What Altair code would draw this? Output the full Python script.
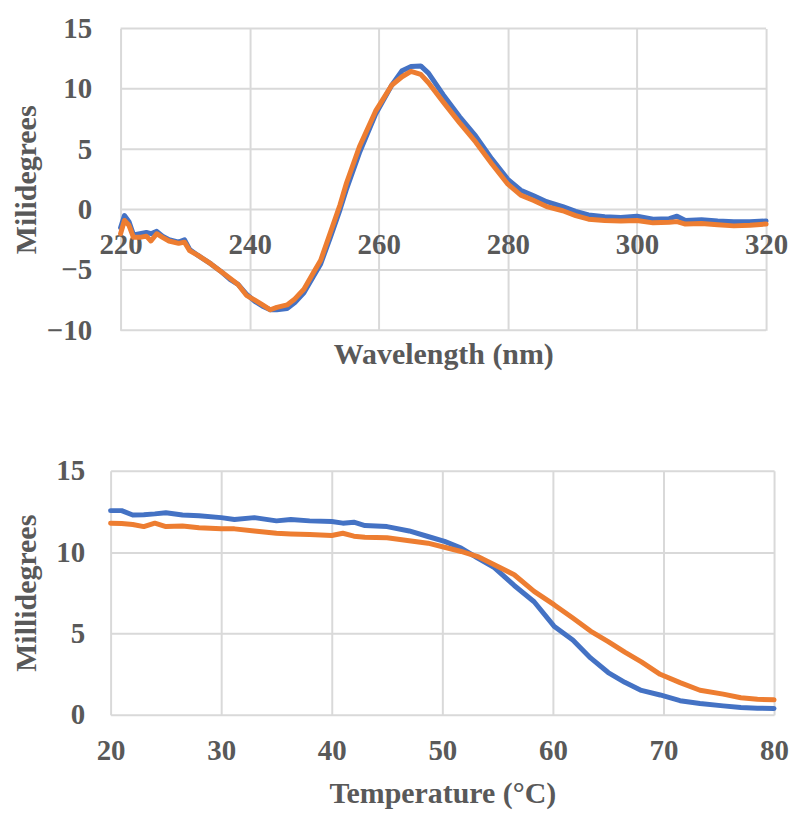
import altair as alt
import pandas as pd

# ---------------- data ----------------
wavelength = [220, 220.6, 221.3, 222, 223, 224, 224.7, 225.6, 226.5, 227.5, 229, 229.9,
              230.7, 232, 234, 235.5, 237, 238.2, 239.5, 240.8, 242, 243.2, 244.2, 245.8,
              247, 248.4, 249.8, 251, 252.5, 254, 255, 257, 259.5, 262, 263.6, 265, 266.5,
              267.7, 270, 272.5, 275, 277.5, 280, 282, 284, 286, 288.5, 290.5, 292.5, 295,
              297.5, 300, 302.5, 305, 306.2, 307.5, 310, 312.5, 315, 317.5, 320]
cd_blue = [-1.5, -0.5, -1.0, -2.1, -2.0, -1.9, -2.0, -1.8, -2.2, -2.5, -2.7, -2.5,
           -3.3, -3.8, -4.5, -5.1, -5.8, -6.2, -7.0, -7.6, -8.0, -8.3, -8.3, -8.2,
           -7.7, -6.9, -5.6, -4.5, -2.3, 0.0, 1.7, 4.7, 7.9, 10.3, 11.5, 11.85, 11.9,
           11.3, 9.5, 7.7, 6.1, 4.2, 2.5, 1.6, 1.15, 0.65, 0.25, -0.15, -0.45, -0.6,
           -0.65, -0.55, -0.8, -0.75, -0.55, -0.9, -0.85, -0.95, -1.0, -1.0, -0.95]
cd_orange = [-2.0, -0.9, -1.3, -2.3, -2.3, -2.2, -2.6, -2.0, -2.3, -2.6, -2.8, -2.7,
             -3.4, -3.8, -4.5, -5.1, -5.7, -6.2, -7.1, -7.5, -7.9, -8.3, -8.1, -7.9,
             -7.4, -6.6, -5.3, -4.2, -1.9, 0.4, 2.2, 5.2, 8.15, 10.3, 11.0, 11.45, 11.2,
             10.5, 8.9, 7.2, 5.6, 3.8, 2.1, 1.2, 0.75, 0.25, -0.1, -0.5, -0.8, -0.9,
             -0.95, -0.9, -1.1, -1.05, -1.0, -1.2, -1.15, -1.25, -1.35, -1.3, -1.2]

temperature = [20, 21, 22, 23, 24, 25, 26.5, 28, 30, 31.2, 33, 35, 36.3, 38, 40, 41, 42,
               43, 45, 47, 48.7, 50.2, 51.7, 53.2, 54.7, 56.5, 58.3, 60.1, 61.8, 63.4, 65,
               66.5, 68, 69.7, 71.5, 73.3, 75.4, 77, 78.5, 80]
melt_blue = [12.55, 12.55, 12.28, 12.3, 12.35, 12.42, 12.28, 12.24, 12.12, 12.0, 12.12,
             11.92, 12.0, 11.92, 11.88, 11.78, 11.84, 11.63, 11.57, 11.3, 10.96, 10.66,
             10.25, 9.63, 9.05, 7.95, 6.95, 5.45, 4.6, 3.5, 2.6, 2.0, 1.5, 1.22, 0.87,
             0.7, 0.55, 0.45, 0.41, 0.39]
melt_orange = [11.78, 11.76, 11.7, 11.57, 11.78, 11.57, 11.6, 11.5, 11.43, 11.43, 11.3,
               11.16, 11.12, 11.08, 11.02, 11.16, 10.98, 10.92, 10.88, 10.7, 10.55, 10.3,
               10.04, 9.73, 9.22, 8.61, 7.59, 6.77, 5.95, 5.15, 4.5, 3.85, 3.25, 2.49,
               1.98, 1.51, 1.27, 1.05, 0.96, 0.92]

series = ["Series 1", "Series 2"]
series_colors = ["#4472C4", "#ED7D31"]
wl_ticks = [220, 240, 260, 280, 300, 320]
cd_ticks = [-10, -5, 0, 5, 10, 15]
temp_ticks = [20, 30, 40, 50, 60, 70, 80]
melt_ticks = [0, 5, 10, 15]

# ---------------- tables ----------------
top_df = pd.DataFrame({
    "wl": wavelength + wavelength,
    "cd": cd_blue + cd_orange,
    "s": [series[0]] * len(wavelength) + [series[1]] * len(wavelength),
})
grid_df = pd.DataFrame({"cd": cd_ticks})
bot_df = pd.DataFrame({
    "t": temperature + temperature,
    "md": melt_blue + melt_orange,
    "s": [series[0]] * len(temperature) + [series[1]] * len(temperature),
})

FONT = "Liberation Serif"
GREY = "#595959"
GRID = "#d9d9d9"

color_enc = alt.Color("s:N", scale=alt.Scale(domain=series, range=series_colors), legend=None)

top_x_scale = alt.Scale(domain=[220, 320], range=[10, 658], nice=False, zero=False)
top_y_scale = alt.Scale(domain=[-10, 15], nice=False, zero=False)
top_x_axis = alt.Axis(values=wl_ticks, title="Wavelength (nm)", labelPadding=-86, grid=True,
                      labelBaseline="middle", titleY=33, titleBaseline="alphabetic")
top_y_axis = alt.Axis(values=cd_ticks, title="Milidegrees", labelPadding=19, grid=False,
                      titleX=-75, titleBaseline="alphabetic")

top_grid = alt.Chart(grid_df).mark_rule(color=GRID, strokeWidth=2).encode(
    y=alt.Y("cd:Q", scale=top_y_scale, axis=top_y_axis),
    x=alt.datum(220, scale=top_x_scale, axis=top_x_axis),
    x2=alt.datum(320),
)

top_lines = alt.Chart(top_df).mark_line(strokeWidth=5, strokeJoin="round", strokeCap="round").encode(
    x=alt.X("wl:Q", scale=top_x_scale, axis=top_x_axis),
    y=alt.Y("cd:Q", scale=top_y_scale, axis=top_y_axis),
    color=color_enc,
    order=alt.Order("wl:Q"),
)

top = alt.layer(top_grid, top_lines).properties(width=658, height=303)

bottom = alt.Chart(bot_df).mark_line(strokeWidth=5, strokeJoin="round", strokeCap="round").encode(
    x=alt.X("t:Q", scale=alt.Scale(domain=[20, 80], nice=False, zero=False),
            axis=alt.Axis(values=temp_ticks, title="Temperature (°C)", labelPadding=36,
                          labelBaseline="middle", titleY=88, titleBaseline="alphabetic")),
    y=alt.Y("md:Q", scale=alt.Scale(domain=[0, 15], nice=False),
            axis=alt.Axis(values=melt_ticks, title="Millidegrees", labelPadding=26,
                          titleX=-75, titleBaseline="alphabetic")),
    color=color_enc,
    order=alt.Order("t:Q"),
).properties(width=666, height=245)

chart = alt.concat(top, bottom, columns=1, spacing=88).properties(
    padding={"left": 3, "top": 5, "right": 0, "bottom": 1},
    background="white",
).configure_view(stroke=None).configure_axis(
    labelFont=FONT, labelFontSize=29, labelFontWeight="bold", labelColor=GREY,
    titleFont=FONT, titleFontSize=30, titleFontWeight="bold", titleColor=GREY,
    gridColor=GRID, gridWidth=2, domain=False, ticks=False,
    labelFlush=False, labelOverlap=False,
)

chart.save("out.html", embed_options={"renderer": "svg", "actions": False})
